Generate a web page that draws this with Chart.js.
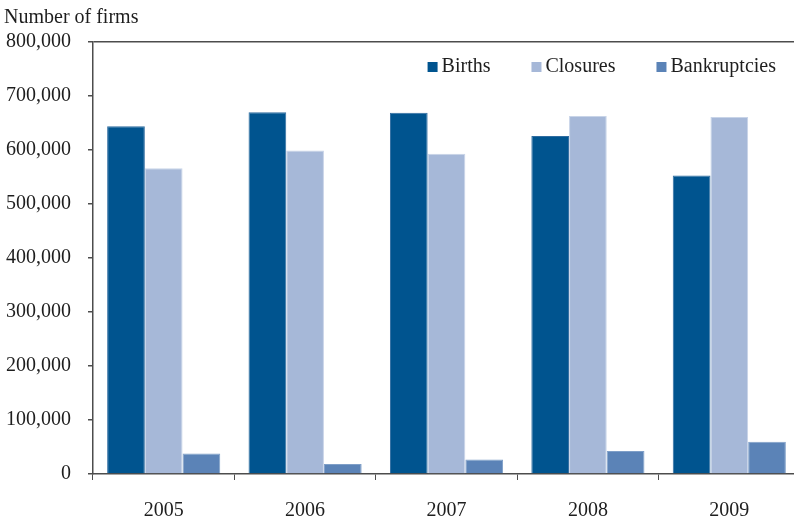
<!DOCTYPE html>
<html>
<head>
<meta charset="utf-8">
<script src="https://cdn.jsdelivr.net/npm/chart.js@4"></script>
<style>
  html, body { margin: 0; padding: 0; background: #fff; overflow: hidden; }
  #wrap { width: 800px; height: 519px; }
</style>
</head>
<body>
<div id="wrap"><canvas id="firms-chart"></canvas></div>
<script>
// Data
const years = ['2005', '2006', '2007', '2008', '2009'];
const births = [644000, 670000, 669000, 626000, 553000];
const closures = [566000, 599000, 593000, 663000, 661000];
const bankruptcies = [38000, 18500, 27000, 42600, 59800];

const axisColor = '#4d4d4d';
const textColor = '#1e1e1e';
const fontFamily = '"Liberation Serif", "Times New Roman", serif';
Chart.defaults.font.family = fontFamily;
Chart.defaults.font.size = 20;
Chart.defaults.color = textColor;

// Legend drawn inside the plot, top right, in one row
const insideLegend = {
  id: 'insideLegend',
  afterDatasetsDraw(chart) {
    const { ctx, chartArea } = chart;
    const box = 10, gap = 4, spacing = 41;
    ctx.save();
    ctx.font = '20px ' + fontFamily;
    ctx.textBaseline = 'middle';
    ctx.textAlign = 'left';
    const items = chart.data.datasets.map(ds => ({
      label: ds.label, color: ds.backgroundColor, w: ctx.measureText(ds.label).width
    }));
    let total = items.reduce((s, it) => s + box + gap + it.w, 0) + spacing * (items.length - 1);
    let x = chartArea.right - 24 - total;
    const y = chartArea.top + 25;
    items.forEach(it => {
      ctx.fillStyle = it.color;
      ctx.fillRect(x, y - box / 2, box, box);
      ctx.fillStyle = textColor;
      ctx.fillText(it.label, x + box + gap, y);
      x += box + gap + it.w + spacing;
    });
    ctx.restore();
  }
};

const ctx = document.getElementById('firms-chart').getContext('2d');
window.firmsChart = new Chart(ctx, {
  type: 'bar',
  data: {
    labels: years,
    datasets: [
      { label: 'Births', data: births, backgroundColor: '#00548f', borderColor: '#2f6ca0', borderWidth: 1 },
      { label: 'Closures', data: closures, backgroundColor: '#a6b8d8', borderColor: '#c8d4e8', borderWidth: 1 },
      { label: 'Bankruptcies', data: bankruptcies, backgroundColor: '#5b83b7', borderColor: '#7f9fc8', borderWidth: 1 }
    ]
  },
  plugins: [insideLegend],
  options: {
    responsive: true,
    maintainAspectRatio: false,
    animation: false,
    layout: { padding: { left: 4, right: 0, top: 0, bottom: 0 } },
    datasets: { bar: { categoryPercentage: 0.8, barPercentage: 1.0 } },
    plugins: {
      title: {
        display: true,
        text: 'Number of firms',
        align: 'start',
        font: { size: 20, weight: 'normal' },
        color: textColor,
        padding: { top: 6, bottom: 12 }
      },
      legend: { display: false },
      tooltip: { enabled: false }
    },
    scales: {
      x: {
        afterFit: s => { s.height = 45; },
        grid: {
          offset: true,
          drawOnChartArea: false,
          tickLength: 6,
          tickColor: axisColor
        },
        border: { color: axisColor, width: 1.5 },
        ticks: { padding: 19, color: textColor }
      },
      y: {
        min: 0,
        max: 800000,
        afterFit: s => { s.width = 89; },
        ticks: {
          stepSize: 100000,
          padding: 17,
          color: textColor,
          callback: v => v.toLocaleString('en-US')
        },
        grid: {
          tickLength: 5,
          tickColor: axisColor,
          color: c => (c.tick && c.tick.value === 800000) ? axisColor : 'rgba(0,0,0,0)',
          lineWidth: 1.5
        },
        border: { color: axisColor, width: 1.5 }
      }
    }
  }
});
</script>
</body>
</html>
